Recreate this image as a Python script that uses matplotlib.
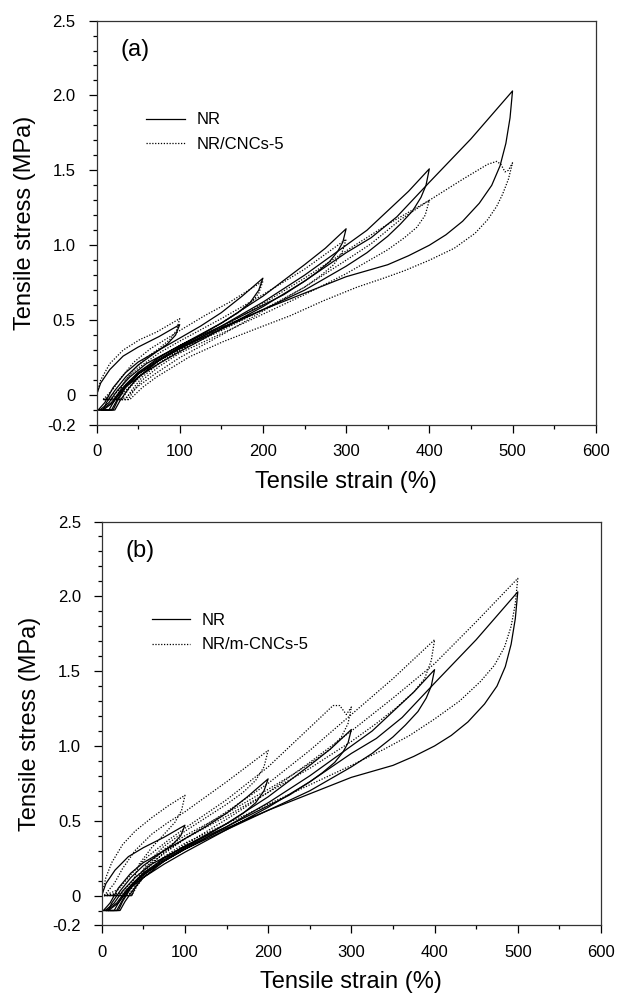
import numpy as np
import matplotlib
matplotlib.use('Agg')
import matplotlib.pyplot as plt
from matplotlib.ticker import MultipleLocator

plt.rcParams['font.family'] = ['Liberation Sans', 'DejaVu Sans']

# NR, five loading-unloading cycles (same curves in both panels)
nr_x = [
    [0, 5, 16, 32, 50, 75, 100, 95, 85, 70, 50, 35, 22, 12, 8, 2],
    [2, 10, 20, 35, 50, 75, 100, 125, 150, 175, 200, 195, 185, 170, 150, 125, 100, 75, 50, 35, 22, 15, 4],
    [4, 15, 25, 40, 60, 80, 100, 150, 200, 250, 275, 300, 296, 290, 280, 265, 250, 225, 200, 150, 100, 75, 50, 35, 25, 18, 6],
    [6, 18, 30, 50, 75, 100, 150, 200, 250, 300, 325, 350, 375, 400, 396, 390, 380, 365, 350, 325, 300, 250, 200, 150, 100, 75, 50, 35, 25, 20, 8],
    [8, 20, 32, 50, 75, 100, 150, 200, 250, 300, 330, 361, 400, 450, 500, 497, 492, 485, 475, 460, 440, 420, 400, 375, 350, 325, 300, 250, 200, 150, 100, 75, 50, 38, 28, 22, 10],
]
nr_y = [
    [0, 0.08, 0.17, 0.26, 0.32, 0.39, 0.47, 0.40, 0.34, 0.28, 0.20, 0.12, 0.03, -0.05, -0.10, -0.10],
    [-0.10, -0.05, 0.05, 0.15, 0.22, 0.30, 0.38, 0.46, 0.55, 0.66, 0.78, 0.70, 0.62, 0.55, 0.48, 0.40, 0.32, 0.24, 0.15, 0.07, -0.03, -0.10, -0.10],
    [-0.10, -0.05, 0.03, 0.12, 0.21, 0.27, 0.33, 0.48, 0.66, 0.87, 0.98, 1.11, 1.02, 0.96, 0.89, 0.82, 0.76, 0.67, 0.60, 0.46, 0.33, 0.25, 0.15, 0.06, -0.03, -0.10, -0.10],
    [-0.10, -0.05, 0.04, 0.14, 0.23, 0.31, 0.46, 0.62, 0.80, 1.00, 1.10, 1.23, 1.36, 1.51, 1.40, 1.32, 1.23, 1.14, 1.06, 0.95, 0.86, 0.70, 0.57, 0.44, 0.31, 0.23, 0.14, 0.05, -0.04, -0.10, -0.10],
    [-0.10, -0.05, 0.04, 0.12, 0.21, 0.29, 0.44, 0.59, 0.76, 0.95, 1.05, 1.19, 1.42, 1.71, 2.03, 1.85, 1.68, 1.53, 1.40, 1.28, 1.16, 1.07, 1.00, 0.93, 0.87, 0.83, 0.79, 0.68, 0.57, 0.45, 0.32, 0.23, 0.12, 0.04, -0.04, -0.10, -0.10],
]

# NR/CNCs-5 (panel a)
cnc_x = [
    [0, 5, 16, 32, 52, 72, 100, 96, 88, 75, 60, 45, 35, 28, 22, 8],
    [8, 20, 30, 45, 65, 100, 130, 160, 200, 195, 185, 170, 150, 125, 100, 75, 55, 40, 30, 8],
    [8, 25, 35, 50, 75, 100, 150, 200, 250, 300, 295, 285, 270, 250, 200, 150, 100, 75, 55, 42, 35, 8],
    [8, 30, 42, 60, 100, 150, 200, 250, 305, 350, 400, 395, 385, 370, 350, 325, 300, 250, 200, 150, 100, 75, 55, 45, 38, 8],
    [8, 35, 48, 70, 100, 150, 200, 250, 300, 330, 365, 400, 440, 470, 481, 486, 491, 495, 500,
     495, 488, 481, 470, 455, 430, 400, 370, 345, 313, 273, 233, 193, 152, 112, 72, 55, 40, 10],
]
cnc_y = [
    [0, 0.10, 0.21, 0.30, 0.37, 0.42, 0.51, 0.43, 0.37, 0.31, 0.25, 0.17, 0.10, 0.03, -0.03, -0.03],
    [-0.03, 0.04, 0.12, 0.22, 0.31, 0.43, 0.53, 0.62, 0.76, 0.68, 0.61, 0.55, 0.48, 0.40, 0.32, 0.23, 0.14, 0.05, -0.03, -0.03],
    [-0.03, 0.02, 0.10, 0.18, 0.28, 0.36, 0.51, 0.67, 0.84, 1.04, 0.95, 0.87, 0.80, 0.72, 0.57, 0.43, 0.30, 0.21, 0.12, 0.03, -0.03, -0.03],
    [-0.03, 0.0, 0.07, 0.16, 0.30, 0.45, 0.61, 0.78, 0.98, 1.14, 1.30, 1.20, 1.12, 1.05, 0.97, 0.89, 0.81, 0.67, 0.54, 0.41, 0.28, 0.19, 0.10, 0.03, -0.03, -0.03],
    [-0.03, -0.02, 0.05, 0.14, 0.25, 0.40, 0.56, 0.72, 0.90, 1.01, 1.17, 1.30, 1.44, 1.54, 1.56, 1.54, 1.49, 1.50, 1.55,
     1.44, 1.34, 1.26, 1.17, 1.08, 0.98, 0.90, 0.83, 0.78, 0.72, 0.63, 0.53, 0.445, 0.356, 0.256, 0.12, 0.05, -0.03, -0.03],
]

# NR/m-CNCs-5 (panel b)
mcnc_x = [
    [0, 5, 12, 25, 40, 60, 80, 100, 96, 88, 75, 60, 45, 38, 35, 30, 3],
    [3, 15, 25, 40, 60, 80, 100, 150, 200, 195, 185, 170, 150, 125, 100, 75, 55, 42, 36, 3],
    [3, 20, 35, 55, 80, 100, 150, 200, 240, 278, 286, 294, 300, 296, 288, 275, 255, 230, 200, 150, 100, 75, 55, 42, 36, 3],
    [3, 25, 40, 60, 100, 150, 200, 250, 300, 350, 400, 396, 388, 375, 355, 330, 300, 250, 200, 150, 100, 75, 55, 42, 36, 3],
    [3, 30, 45, 70, 100, 150, 200, 250, 300, 350, 400, 450, 500,
     497, 492, 484, 472, 455, 430, 400, 370, 340, 300, 250, 200, 150, 100, 75, 55, 42, 36, 3],
]
mcnc_y = [
    [0, 0.12, 0.22, 0.34, 0.43, 0.52, 0.60, 0.67, 0.57, 0.49, 0.41, 0.32, 0.21, 0.10, 0.02, 0.0, 0.0],
    [0.0, 0.08, 0.18, 0.30, 0.41, 0.49, 0.56, 0.76, 0.97, 0.86, 0.77, 0.69, 0.61, 0.52, 0.43, 0.33, 0.22, 0.10, 0.0, 0.0],
    [0.0, 0.04, 0.14, 0.26, 0.37, 0.45, 0.64, 0.86, 1.07, 1.27, 1.27, 1.21, 1.26, 1.15, 1.06, 0.98, 0.90, 0.81, 0.71, 0.55, 0.40, 0.31, 0.20, 0.08, 0.0, 0.0],
    [0.0, 0.02, 0.12, 0.22, 0.38, 0.56, 0.75, 0.97, 1.21, 1.45, 1.71, 1.57, 1.45, 1.36, 1.26, 1.15, 1.03, 0.85, 0.69, 0.53, 0.38, 0.29, 0.18, 0.07, 0.0, 0.0],
    [0.0, 0.02, 0.11, 0.22, 0.34, 0.51, 0.69, 0.89, 1.10, 1.32, 1.55, 1.83, 2.12,
     1.95, 1.80, 1.66, 1.54, 1.43, 1.30, 1.18, 1.07, 0.98, 0.87, 0.74, 0.61, 0.48, 0.35, 0.26, 0.16, 0.06, 0.0, 0.0],
]

yticks = [-0.2, 0, 0.5, 1.0, 1.5, 2.0, 2.5]
ytick_labels = ['-0.2', '0', '0.5', '1.0', '1.5', '2.0', '2.5']
xticks = [0, 100, 200, 300, 400, 500, 600]


def draw_panel(ax, fill_x, fill_y, fill_name, tag):
    for i in range(len(nr_x)):
        ax.plot(nr_x[i], nr_y[i], color='black', lw=0.9, ls='-',
                label='NR' if i == 0 else None)
    for i in range(len(fill_x)):
        ax.plot(fill_x[i], fill_y[i], color='black', lw=0.9, ls=(0, (1, 1.3)),
                label=fill_name if i == 0 else None)
    ax.set_xlim(0, 600)
    ax.set_ylim(-0.2, 2.5)
    ax.set_xticks(xticks)
    ax.set_yticks(yticks)
    ax.set_yticklabels(ytick_labels)
    ax.xaxis.set_minor_locator(MultipleLocator(50))
    ax.yaxis.set_minor_locator(MultipleLocator(0.1))
    ax.tick_params(axis='both', which='major', direction='out', length=6,
                   width=0.9, labelsize=12, top=False, right=False)
    ax.tick_params(axis='x', which='major', pad=8)
    ax.tick_params(axis='y', which='major', pad=9)
    ax.tick_params(axis='both', which='minor', direction='out', length=3,
                   width=0.9, top=False, right=False)
    for s in ax.spines.values():
        s.set_linewidth(0.9)
        s.set_color('#333333')
    ax.set_xlabel('Tensile strain (%)', fontsize=17, labelpad=8)
    ax.set_ylabel('Tensile stress (MPa)', fontsize=17, labelpad=8)
    ax.text(29, 2.305, tag, fontsize=17, ha='left', va='center')
    ax.legend(loc='upper left', bbox_to_anchor=(0.1, 0.773), frameon=False,
              fontsize=12, handlelength=2.3, handletextpad=0.7,
              labelspacing=0.55, borderpad=0, borderaxespad=0)


fig = plt.figure(figsize=(6.21, 9.93), dpi=100)
ax1 = fig.add_axes([0.1554, 0.572, 0.8039, 0.4073])
ax2 = fig.add_axes([0.1638, 0.068, 0.804, 0.4068])

draw_panel(ax1, cnc_x, cnc_y, 'NR/CNCs-5', '(a)')
draw_panel(ax2, mcnc_x, mcnc_y, 'NR/m-CNCs-5', '(b)')

fig.savefig('out.png', dpi=100)
